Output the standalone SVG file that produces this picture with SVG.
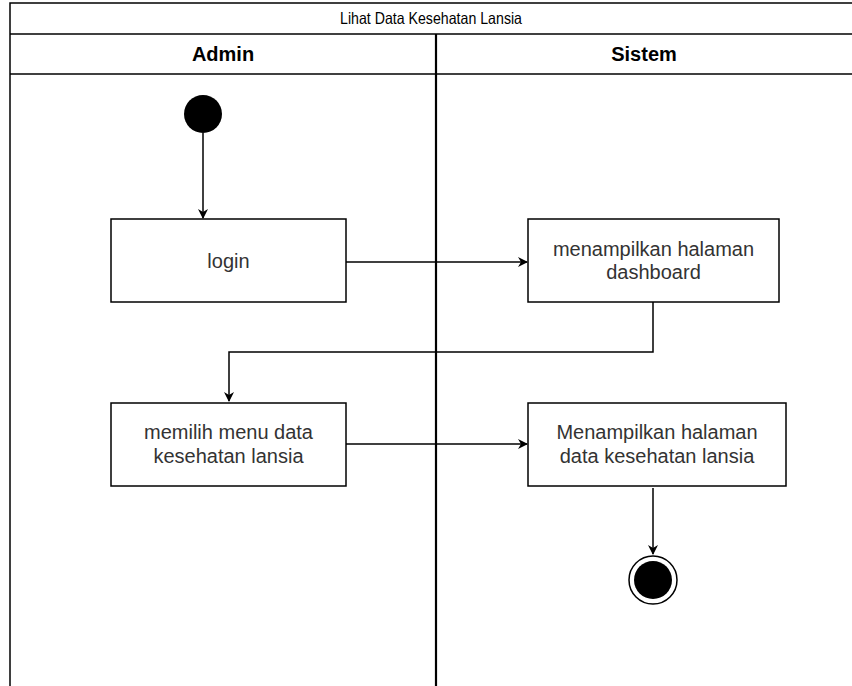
<svg xmlns="http://www.w3.org/2000/svg" width="852" height="686" viewBox="0 0 852 686">
<style>
.lane{fill:none;stroke:#000;stroke-width:1.5}
.box{fill:#fff;stroke:#000;stroke-width:1.5}
.t{font-family:"Liberation Sans",Arial,sans-serif;font-size:20px;fill:#333;text-anchor:middle}
.h{font-family:"Liberation Sans",Arial,sans-serif;font-size:20px;font-weight:bold;fill:#000;text-anchor:middle}
.title{font-family:"Liberation Sans",Arial,sans-serif;font-size:16.5px;fill:#000;text-anchor:middle}
.c{fill:none;stroke:#000;stroke-width:1.5}
</style>
<defs>
<marker id="arr" viewBox="0 0 10 10" refX="9" refY="5" markerWidth="10" markerHeight="10" markerUnits="userSpaceOnUse" orient="auto">
<path d="M0,0 L10,5 L0,10 L3,5 Z" fill="#000"/>
</marker>
</defs>
<rect width="852" height="686" fill="#fff"/>
<g id="pool">
<rect class="lane" x="10" y="3" width="850" height="700"/>
<line class="lane" x1="10" y1="34" x2="860" y2="34"/>
<line class="lane" x1="10" y1="74" x2="860" y2="74"/>
<line x1="436" y1="34" x2="436" y2="700" stroke="#000" stroke-width="2.2"/>
<text class="title" x="431" y="24" textLength="182" lengthAdjust="spacingAndGlyphs">Lihat Data Kesehatan Lansia</text>
<text class="h" x="223" y="61">Admin</text>
<text class="h" x="644" y="61">Sistem</text>
</g>
<g id="connectors">
<path class="c" d="M203,133 V218" marker-end="url(#arr)"/>
<path class="c" d="M346,262 H527" marker-end="url(#arr)"/>
<path class="c" d="M653,302 V352 H229 V401" marker-end="url(#arr)"/>
<path class="c" d="M346,444 H527" marker-end="url(#arr)"/>
<path class="c" d="M653,488 V554" marker-end="url(#arr)"/>
</g>
<g id="start"><circle cx="203" cy="114" r="19" fill="#000"/></g>
<g id="login">
<rect class="box" x="111" y="219" width="235" height="83"/>
<text class="t" x="228.5" y="268">login</text>
</g>
<g id="dashboard">
<rect class="box" x="528" y="219" width="251" height="83"/>
<text class="t" x="653.5" y="256">menampilkan halaman</text>
<text class="t" x="653.5" y="279">dashboard</text>
</g>
<g id="memilih">
<rect class="box" x="111" y="403" width="235" height="83"/>
<text class="t" x="228.5" y="439">memilih menu data</text>
<text class="t" x="228.5" y="463">kesehatan lansia</text>
</g>
<g id="menampilkan">
<rect class="box" x="528" y="403" width="258" height="83"/>
<text class="t" x="657" y="439">Menampilkan halaman</text>
<text class="t" x="657" y="463">data kesehatan lansia</text>
</g>
<g id="end">
<circle cx="653" cy="580" r="24" fill="#fff" stroke="#000" stroke-width="1.5"/>
<circle cx="653" cy="580" r="19" fill="#000"/>
</g>
</svg>
